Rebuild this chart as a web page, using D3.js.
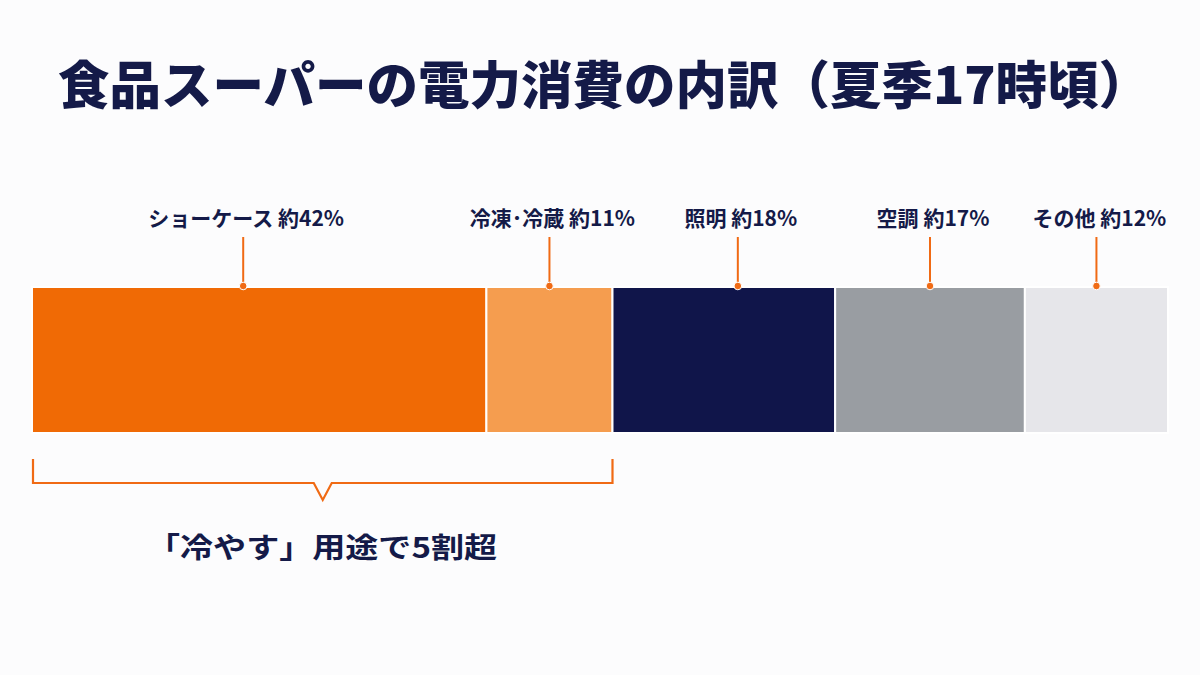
<!DOCTYPE html>
<html lang="ja">
<head>
<meta charset="utf-8">
<script src="https://cdn.jsdelivr.net/npm/d3@7"></script>
<style>
  html, body { margin: 0; padding: 0; background: #fcfcfd; }
  svg { display: block; }
  text { font-family: "Noto Sans CJK JP", "Noto Sans", sans-serif; }
</style>
</head>
<body>
<svg id="chart" width="1200" height="675"></svg>
<script>
// ---- data ----
const categories = ["ショーケース", "冷凍･冷蔵", "照明", "空調", "その他"];
// bar widths (share of 100)
const shares = [40.0, 11.1, 19.6, 16.7, 12.6];
// stated percentages in the labels
const labelPct = [42, 11, 18, 17, 12];
const colors = ["#f06a05", "#f59d4f", "#10154a", "#999da2", "#e6e6ea"];
const titleText = "食品スーパーの電力消費の内訳（夏季17時頃）";
const bracketCount = 2; // first two categories are "cooling"
const bracketText = "「冷やす」用途で5割超";

// ---- layout ----
const W = 1200, H = 675;
const svg = d3.select("#chart");
svg.append("rect").attr("width", W).attr("height", H).attr("fill", "#fcfcfd");

const x = d3.scaleLinear().domain([0, d3.sum(shares)]).range([32, 1168]);
const barTop = 287, barH = 146;
// small horizontal nudges of the leader lines, as placed in the reference
const leaderNudge = [-16, 0, 14, 0, 0];

let acc = 0;
const segs = shares.map((v, i) => {
  const s = { i, cat: categories[i], v, x0: acc, x1: acc + v, pct: labelPct[i], color: colors[i] };
  acc += v;
  return s;
});

const navy = "#141a48";
const orange = "#f06a14";

// title
svg.append("text")
  .attr("x", 604).attr("y", 104)
  .attr("text-anchor", "middle")
  .attr("font-size", 51.5).attr("font-weight", 900)
  .attr("fill", navy)
  .text(titleText);

// bar segments
svg.append("g").selectAll("rect").data(segs).join("rect")
  .attr("x", d => x(d.x0))
  .attr("y", barTop)
  .attr("width", d => x(d.x1) - x(d.x0))
  .attr("height", barH)
  .attr("fill", d => d.color)
  .attr("stroke", "#ffffff")
  .attr("stroke-width", 2);

// leader lines + labels
const lg = svg.append("g");
segs.forEach(d => {
  const cx = (x(d.x0) + x(d.x1)) / 2 + leaderNudge[d.i];
  lg.append("line")
    .attr("x1", cx).attr("x2", cx)
    .attr("y1", 237).attr("y2", barTop)
    .attr("stroke", orange).attr("stroke-width", 2);
  lg.append("circle")
    .attr("cx", cx).attr("cy", barTop - 1).attr("r", 3.8)
    .attr("fill", orange).attr("stroke", "#ffffff").attr("stroke-width", 1);
  lg.append("text")
    .attr("x", cx + 3).attr("y", 226)
    .attr("text-anchor", "middle")
    .attr("font-size", 21).attr("font-weight", 700)
    .attr("fill", navy)
    .text(`${d.cat} 約${d.pct}%`);
});

// bracket under cooling categories
const bx0 = x(segs[0].x0) + 1, bx1 = x(segs[bracketCount - 1].x1);
const bmid = (bx0 + bx1) / 2;
const by = 483, byTop = 459, notchW = 9, notchDepth = 17;
svg.append("path")
  .attr("d", `M${bx0},${byTop} V${by} H${bmid - notchW} L${bmid},${by + notchDepth} L${bmid + notchW},${by} H${bx1} V${byTop}`)
  .attr("fill", "none")
  .attr("stroke", orange).attr("stroke-width", 2.2)
  .attr("stroke-linejoin", "miter");

svg.append("text")
  .attr("x", 322).attr("y", 558)
  .attr("text-anchor", "middle")
  .attr("font-size", 28).attr("font-weight", 700)
  .attr("fill", navy)
  .attr("textLength", 350)
  .attr("lengthAdjust", "spacingAndGlyphs")
  .text(bracketText);
</script>
</body>
</html>
